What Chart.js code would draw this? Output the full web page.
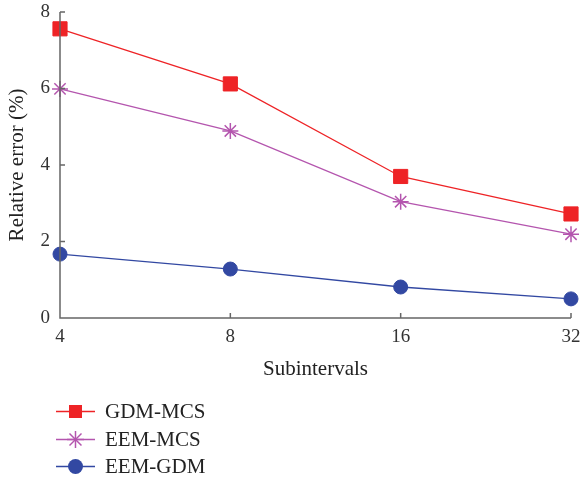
<!DOCTYPE html>
<html><head><meta charset="utf-8">
<script src="https://cdn.jsdelivr.net/npm/chart.js@4"></script>
<style>
html,body{margin:0;padding:0;background:#fff;}
#wrap{position:relative;width:582px;height:481px;}
#legend{position:absolute;left:56px;top:398px;font-family:"Liberation Serif",serif;font-size:21px;color:#222;}
.item{display:flex;align-items:center;height:27.5px;}
.item svg{margin-right:10px;}
</style></head>
<body>
<div id="wrap">
<canvas id="c" width="582" height="481"></canvas>
<div id="legend"></div>
</div>
<script>
const categories = ['4','8','16','32'];
const gdmMcs = [7.56, 6.12, 3.70, 2.72];
const eemMcs = [5.99, 4.89, 3.04, 2.19];
const eemGdm = [1.67, 1.28, 0.81, 0.50];
const yTicks = [0, 2, 4, 6, 8];
const seriesNames = ['GDM-MCS','EEM-MCS','EEM-GDM'];
const colors = ['#ee2326','#b455ae','#3248a2'];
const styles = ['rect','star','circle'];
const radii = [10,8,7];

const serif = '"Liberation Serif", serif';
const axisColor = '#666';

const inwardTicks = {
  id:'inwardTicks',
  afterDraw(chart){
    const ctx = chart.ctx, a = chart.chartArea;
    const xs = chart.scales.x, ys = chart.scales.y;
    ctx.save();
    ctx.strokeStyle = axisColor; ctx.lineWidth = 1.5;
    ctx.beginPath();
    ctx.moveTo(a.left, a.top); ctx.lineTo(a.left, a.bottom); ctx.lineTo(a.right, a.bottom);
    ys.ticks.forEach((t,i)=>{ if(t.value===0) return; const y = ys.getPixelForValue(t.value); ctx.moveTo(a.left, y); ctx.lineTo(a.left+5, y); });
    xs.ticks.forEach((t,i)=>{ if(i===0) return; const x = xs.getPixelForTick(i); ctx.moveTo(x, a.bottom); ctx.lineTo(x, a.bottom-5); });
    ctx.stroke();
    ctx.restore();
  }
};

const datasets = [gdmMcs, eemMcs, eemGdm].map((d,i)=>({
  label: seriesNames[i], data: d,
  borderColor: colors[i], backgroundColor: colors[i],
  borderWidth: 1.3, pointStyle: styles[i], pointRadius: radii[i],
  pointBorderColor: colors[i], pointBackgroundColor: colors[i], pointBorderWidth: i===1?1.5:1,
  tension: 0, clip: false
}));

new Chart(document.getElementById('c'), {
  type: 'line',
  data: { labels: categories, datasets },
  options: {
    responsive: false, animation: false,
    layout: { padding: { top: 12, right: 0, bottom: 95, left: 0 } },
    plugins: { legend: { display: false }, tooltip: { enabled: false } },
    scales: {
      x: {
        offset: false,
        afterFit(s){ s.paddingRight = 10; s.paddingLeft = 0; },
        grid: { display: false, drawTicks: false },
        border: { display: false },
        ticks: { color: '#333', font: { family: serif, size: 19 }, padding: 8, maxRotation: 0, autoSkip: false },
        title: { display: true, text: 'Subintervals', color: '#222', font: { family: serif, size: 21 }, padding: { top: 0 } }
      },
      y: {
        min: 0, max: 8,
        afterBuildTicks(s){ s.ticks = yTicks.map(v=>({value:v})); },
        afterFit(s){ s.width = 60; s.paddingTop = 0; s.paddingBottom = 0; },
        grid: { display: false, drawTicks: false },
        border: { display: false },
        ticks: { color: '#333', font: { family: serif, size: 19 }, padding: 10 },
        title: { display: true, text: 'Relative error (%)', color: '#222', font: { family: serif, size: 21 }, padding: { top: 5, bottom: 0 } }
      }
    }
  },
  plugins: [inwardTicks]
});

// HTML legend
const leg = document.getElementById('legend');
seriesNames.forEach((n,i)=>{
  const c = colors[i];
  let marker = '';
  if (styles[i]==='rect') marker = `<rect x="13" y="4" width="13" height="13" fill="${c}"/>`;
  else if (styles[i]==='star') marker = `<g stroke="${c}" stroke-width="1.5"><line x1="19.5" y1="2" x2="19.5" y2="19"/><line x1="11" y1="10.5" x2="28" y2="10.5"/><line x1="13.5" y1="4.5" x2="25.5" y2="16.5"/><line x1="25.5" y1="4.5" x2="13.5" y2="16.5"/></g>`;
  else marker = `<circle cx="19.5" cy="10.5" r="7.5" fill="${c}"/>`;
  const div = document.createElement('div'); div.className='item';
  div.innerHTML = `<svg width="39" height="21"><line x1="0" y1="10.5" x2="39" y2="10.5" stroke="${c}" stroke-width="1.5"/>${marker}</svg><span>${n}</span>`;
  leg.appendChild(div);
});
</script>
</body></html>
